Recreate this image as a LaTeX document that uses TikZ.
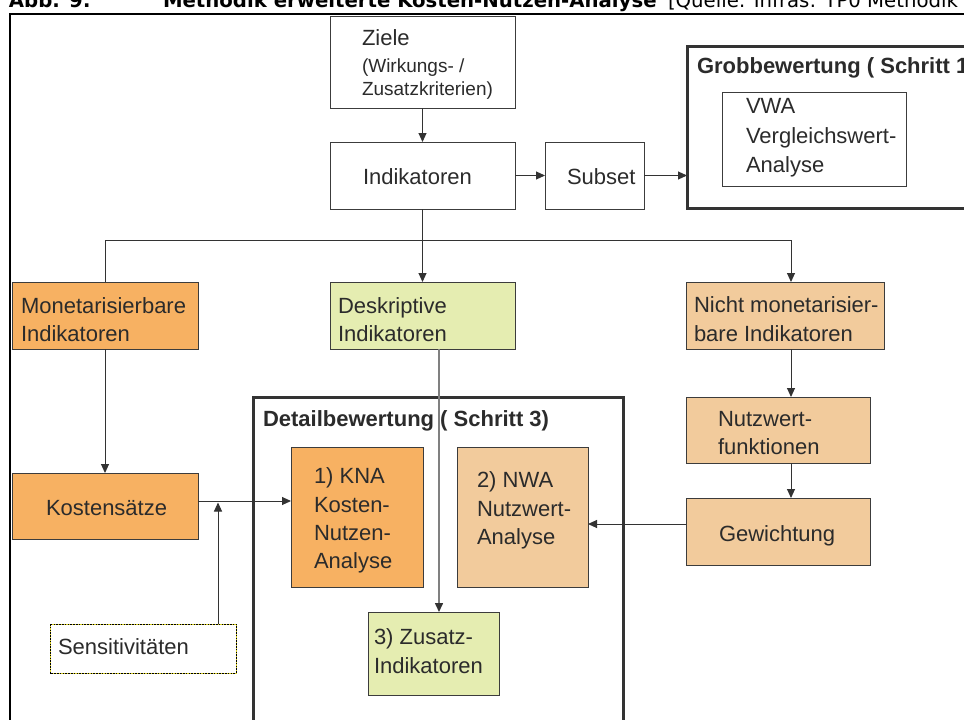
\documentclass[tikz,border=0pt]{standalone}
\usepackage{fontspec}
\setmainfont{Liberation Sans}
\newfontfamily\titlefont{DejaVu Sans}
\usetikzlibrary{arrows.meta}
\definecolor{orA}{HTML}{F7B162}
\definecolor{orB}{HTML}{F2CB9C}
\definecolor{grA}{HTML}{E5EDB1}
\definecolor{bd}{HTML}{3C3C3C}
\definecolor{tx}{HTML}{2B2B2B}
\definecolor{ln}{HTML}{333333}
\definecolor{lng}{HTML}{808080}
\begin{document}
\begin{tikzpicture}[x=1pt,y=-1pt,
  box/.style 2 args={draw=bd,line width=1pt,anchor=north west,inner sep=0pt,outer sep=0pt,
    minimum width=#1pt,minimum height=#2pt},
  frame/.style 2 args={draw=ln,line width=3pt,anchor=north west,inner sep=0pt,outer sep=0pt,
    minimum width=#1pt,minimum height=#2pt},
  lbl/.style={anchor=base west,inner sep=0pt,outer sep=0pt,text=tx,font=\fontsize{22}{28}\selectfont},
  sml/.style={anchor=base west,inner sep=0pt,outer sep=0pt,text=tx,font=\fontsize{19}{24}\selectfont},
  bld/.style={anchor=base west,inner sep=0pt,outer sep=0pt,text=tx,font=\bfseries\fontsize{22}{28}\selectfont},
  ttl/.style={anchor=base west,inner sep=0pt,outer sep=0pt,text=black,font=\titlefont\bfseries\fontsize{19.7}{24}\selectfont},
  ttn/.style={anchor=base west,inner sep=0pt,outer sep=0pt,text=black,font=\titlefont\fontsize{19.7}{24}\selectfont},
  ln/.style={draw=ln,line width=1pt},
  arr/.style={draw=ln,line width=1pt,-{Triangle[length=9pt,width=8pt]}},
  arrg/.style={draw=lng,line width=1.5pt,-{Triangle[length=9pt,width=8pt,color=ln]}}
]
\useasboundingbox (0,0) rectangle (964,720);
\clip (0,0) rectangle (964,720);
\fill[white] (0,0) rectangle (964,720);

% outer frame and title
\draw[black,line width=2.5pt] (10,1000) -- (10,14) -- (1100,14);
\node[ttl] (abb) at (9,7.3) {Abb. 9:};
\node[ttl] (ttitle) at (163,7.3) {Methodik erweiterte Kosten-Nutzen-Analyse};
\node[ttn] (tsrc) at (668,7.3) {[Quelle: Infras: TP0 Methodik};

% boxes
\node[box={185}{92},fill=white] (ziele) at (330,16) {};
\node[box={185}{67},fill=white] (indik) at (330,142) {};
\node[box={99}{67},fill=white] (subset) at (545,142) {};
\node[frame={330}{162}] (grob) at (687,46) {};
\node[box={184}{94},fill=white] (vwa) at (722,92) {};
\node[box={186}{67},fill=orA] (mon) at (12,282) {};
\node[box={185}{67},fill=grA] (desk) at (330,282) {};
\node[box={198}{67},fill=orB] (nicht) at (686,282) {};
\node[box={184}{66},fill=orB] (nutz) at (686,397) {};
\node[box={184}{67},fill=orB] (gew) at (686,498) {};
\node[box={186}{66},fill=orA] (kost) at (12,473) {};
\node[frame={370}{420}] (detail) at (253,397) {};
\node[box={132}{140},fill=orA] (kna) at (291,447) {};
\node[box={131}{140},fill=orB] (nwa) at (457,447) {};
\node[box={131}{83},fill=grA] (zus) at (368,612) {};
\node[box={186}{49},fill=white,draw={yellow!85!black},line width=0.9pt] (sens) at (50,624) {};
\draw[black,line width=0.9pt,dash pattern=on 1.6pt off 1.2pt] (sens.north west) rectangle (sens.south east);

% texts
\node[lbl] (tz1) at (362,45) {Ziele};
\node[sml] (tz2) at (362,72) {(Wirkungs- /};
\node[sml] (tz3) at (362,95) {Zusatzkriterien)};
\node[lbl] (ti1) at (363,184) {Indikatoren};
\node[lbl] (ts1) at (567,184) {Subset};
\node[bld] (tg1) at (697,73) {Grobbewertung ( Schritt 1};
\node[lbl] (tv1) at (746,113) {VWA};
\node[lbl] (tv2) at (746,143) {Vergleichswert-};
\node[lbl] (tv3) at (746,172) {Analyse};
\node[lbl] (tm1) at (21,313) {Monetarisierbare};
\node[lbl] (tm2) at (21,341) {Indikatoren};
\node[lbl] (td1) at (338,313) {Deskriptive};
\node[lbl] (td2) at (338,341) {Indikatoren};
\node[lbl] (tn1) at (694,312) {Nicht monetarisier-};
\node[lbl] (tn2) at (694,341) {bare Indikatoren};
\node[lbl] (tu1) at (718,426) {Nutzwert-};
\node[lbl] (tu2) at (718,454) {funktionen};
\node[lbl] (tw1) at (719,541) {Gewichtung};
\node[lbl] (tk1) at (46,515) {Kostensätze};
\node[bld] (tdb) at (263,426) {Detailbewertung ( Schritt 3)};
\node[lbl] (ta1) at (314,483) {1) KNA};
\node[lbl] (ta2) at (314,512) {Kosten-};
\node[lbl] (ta3) at (314,540) {Nutzen-};
\node[lbl] (ta4) at (314,568) {Analyse};
\node[lbl] (tb1) at (477,487) {2) NWA};
\node[lbl] (tb2) at (477,516) {Nutzwert-};
\node[lbl] (tb3) at (477,544) {Analyse};
\node[lbl] (tc1) at (374,644) {3) Zusatz-};
\node[lbl] (tc2) at (374,673) {Indikatoren};
\node[lbl] (te1) at (58,654) {Sensitivitäten};

% helper coordinates
\coordinate (sp) at (424,240);
\coordinate (colN) at (791,0);
\coordinate (rowG) at (0,524);
\coordinate (colD) at (439,0);
\coordinate (rowK) at (0,501);
\coordinate (colS) at (218,0);

% connectors
\draw[arr] (ziele.south) -- (indik.north);
\draw[arr] (indik.east) -- (subset.west);
\draw[arr] (subset.east) -- (subset.east -| grob.west);
\draw[arr] (indik.south) -- (desk.north);
\draw[ln] (mon.north) |- (sp);
\draw[arr] (sp) -| (nicht.north -| colN);
\draw[arr] (nicht.south -| colN) -- (nutz.north -| colN);
\draw[arr] (nutz.south -| colN) -- (gew.north -| colN);
\draw[arr] (gew.west |- rowG) -- (nwa.east |- rowG);
\draw[arrg] (desk.south -| colD) -- (zus.north -| colD);
\draw[arr] (mon.south) -- (kost.north);
\draw[arr] (kost.east |- rowK) -- (kna.west |- rowK);
\draw[arr] (sens.north -| colS) -- ([yshift=-1.5pt]colS |- rowK);
\end{tikzpicture}
\end{document}
